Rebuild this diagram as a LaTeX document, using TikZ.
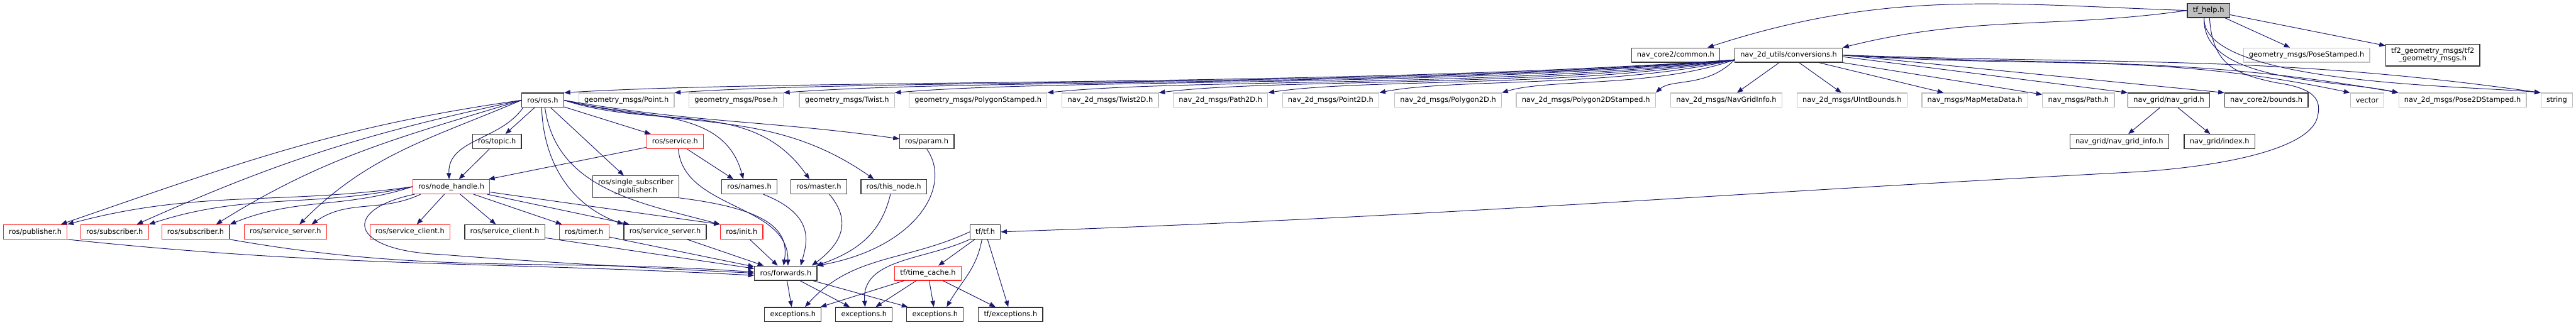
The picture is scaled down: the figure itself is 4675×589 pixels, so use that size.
\documentclass[tikz,border=0pt]{standalone}
\usepackage{fontspec}
\setmainfont{DejaVu Sans}
\usepackage{tikz}
\usetikzlibrary{arrows.meta,calc}

\definecolor{edgeblue}{HTML}{191970}
\definecolor{leafgray}{HTML}{BFBFBF}
\definecolor{cutred}{HTML}{FF2020}

\begin{document}
\begin{tikzpicture}[x=0.25pt, y=0.25pt,
    hfile/.style={rectangle, draw=black!80, line width=0.35pt, fill=white, font=\fontsize{3.25}{3.625}\selectfont, inner xsep=2.5pt, inner ysep=0pt, minimum height=6.5pt, align=center},
    rfile/.style={hfile, draw=cutred},
    gfile/.style={hfile, draw=leafgray},
    mainfile/.style={hfile, fill=leafgray},
    inc/.style={draw=edgeblue, line width=0.275pt, -{Triangle[length=2.75pt, width=2.1pt]}},
    fanout/.style={to path={.. controls ($(\tikztostart)!0.35!(\tikztotarget)+(0,-30)$) and ($(\tikztostart)!0.8!(\tikztotarget)+(0,14)$) .. (\tikztotarget) \tikztonodes}}
  ]
  \useasboundingbox (0,0) rectangle (4675,-589);

  % Root file
  \node[mainfile] (help) at (4008,-19) {tf\_help.h};

  % Direct includes
  \node[hfile] (common) at (3041,-100) {nav\_core2/common.h};
  \node[hfile] (conv) at (3246,-100) {nav\_2d\_utils/conversions.h};
  \node[gfile] (posestamped) at (4186,-100) {geometry\_msgs/PoseStamped.h};
  \node[hfile, inner ysep=1.5pt] (tftwo) at (4415,-100) {tf2\_geometry\_msgs/tf2\\\_geometry\_msgs.h};

  % Includes of conversions.h
  \node[hfile] (rosh) at (985,-182) {ros/ros.h};
  \node[gfile] (gpoint) at (1137,-182) {geometry\_msgs/Point.h};
  \node[gfile] (gpose) at (1336,-182) {geometry\_msgs/Pose.h};
  \node[gfile] (gtwist) at (1537,-182) {geometry\_msgs/Twist.h};
  \node[gfile] (gpolys) at (1775,-182) {geometry\_msgs/PolygonStamped.h};
  \node[gfile] (ntwist) at (2015,-182) {nav\_2d\_msgs/Twist2D.h};
  \node[gfile] (npath) at (2215,-182) {nav\_2d\_msgs/Path2D.h};
  \node[gfile] (npoint) at (2415,-182) {nav\_2d\_msgs/Point2D.h};
  \node[gfile] (npoly) at (2628,-182) {nav\_2d\_msgs/Polygon2D.h};
  \node[gfile] (npolys) at (2878,-182) {nav\_2d\_msgs/Polygon2DStamped.h};
  \node[gfile] (ngrid) at (3133,-182) {nav\_2d\_msgs/NavGridInfo.h};
  \node[gfile] (nbounds) at (3361,-182) {nav\_2d\_msgs/UIntBounds.h};
  \node[gfile] (mapmeta) at (3584,-182) {nav\_msgs/MapMetaData.h};
  \node[gfile] (mpath) at (3772,-182) {nav\_msgs/Path.h};
  \node[hfile] (navgrid) at (3936,-182) {nav\_grid/nav\_grid.h};
  \node[hfile] (cbounds) at (4113,-182) {nav\_core2/bounds.h};
  \node[gfile] (vector) at (4296,-182) {vector};
  \node[gfile] (pose2d) at (4469,-182) {nav\_2d\_msgs/Pose2DStamped.h};
  \node[gfile] (string) at (4640,-182) {string};

  % Fourth row
  \node[hfile] (topic) at (902,-257) {ros/topic.h};
  \node[rfile] (service) at (1225,-257) {ros/service.h};
  \node[hfile] (param) at (1682,-257) {ros/param.h};
  \node[hfile] (gridinfo) at (3846,-257) {nav\_grid/nav\_grid\_info.h};
  \node[hfile] (index) at (4028,-257) {nav\_grid/index.h};

  % Fifth row
  \node[rfile] (nodehandle) at (819,-339) {ros/node\_handle.h};
  \node[hfile, inner ysep=1.5pt] (singlesub) at (1154,-339) {ros/single\_subscriber\\\_publisher.h};
  \node[hfile] (names) at (1360,-339) {ros/names.h};
  \node[hfile] (master) at (1486,-339) {ros/master.h};
  \node[hfile] (thisnode) at (1622,-339) {ros/this\_node.h};

  % Sixth row
  \node[rfile] (publisher) at (64,-421) {ros/publisher.h};
  \node[rfile] (subA) at (208,-421) {ros/subscriber.h};
  \node[rfile] (subB) at (355,-421) {ros/subscriber.h};
  \node[rfile] (srvserverR) at (518,-421) {ros/service\_server.h};
  \node[rfile] (srvclientR) at (744,-421) {ros/service\_client.h};
  \node[hfile] (srvclient) at (916,-421) {ros/service\_client.h};
  \node[rfile] (timer) at (1060,-421) {ros/timer.h};
  \node[hfile] (srvserver) at (1207,-421) {ros/service\_server.h};
  \node[rfile] (init) at (1346,-421) {ros/init.h};
  \node[hfile] (tf) at (1788,-421) {tf/tf.h};

  % Seventh row
  \node[hfile] (forwards) at (1426,-496) {ros/forwards.h};
  \node[rfile] (timecache) at (1684,-496) {tf/time\_cache.h};

  % Bottom row
  \node[hfile] (excA) at (1439,-571) {exceptions.h};
  \node[hfile] (excB) at (1568,-571) {exceptions.h};
  \node[hfile] (excC) at (1697,-571) {exceptions.h};
  \node[hfile] (tfexc) at (1834,-571) {tf/exceptions.h};

  % tf_help.h
  \draw[inc] (help.west) to[out=178, in=18] ([shift={(-23,0)}]common.north east);
  \draw[inc] (help.west) to[out=188, in=14] (conv.north east);
  \draw[inc] (help) -- (posestamped);
  \draw[inc] (help) -- (tftwo);
  \draw[inc] ([shift={(-8,0)}]help.south) to[out=-92, in=168, looseness=0.8] (pose2d.north west);
  \draw[inc] ([shift={(-8,0)}]help.south) to[out=-92, in=174, looseness=0.5] (string.north west);
  \draw[inc] ([shift={(2,0)}]help.south) .. controls (4015,-120) and (4060,-135) .. (4130,-150)
    .. controls (4200,-160) and (4215,-180) .. (4205,-215)
    .. controls (4190,-265) and (4060,-300) .. (3880,-312) to[out=183, in=2] (tf.east);

  % nav_2d_utils/conversions.h
  \foreach \t in {rosh, gpoint, gpose, gtwist, gpolys, ntwist, npath, npoint, npoly, npolys}
    \draw[inc] ([shift={(0,5)}]conv.south west) to[fanout] (\t.north east);
  \draw[inc] ([shift={(-17,0)}]conv.south) -- (ngrid);
  \draw[inc] ([shift={(19,0)}]conv.south) -- (nbounds);
  \draw[inc] ([shift={(55,0)}]conv.south) -- (mapmeta);
  \draw[inc] (conv.south east) -- (mpath);
  \draw[inc] ([shift={(0,-3)}]conv.east) -- (navgrid.north west);
  \draw[inc] (conv.east) -- (cbounds.north west);
  \draw[inc] (conv.east) to[out=-4, in=168] (vector.north west);
  \draw[inc] (conv.east) to[out=-3, in=170] (pose2d.north west);
  \draw[inc] (conv.east) to[out=-2, in=172] (string.north west);

  % ros/ros.h
  \draw[inc] (rosh.west) to[out=188, in=19] ([shift={(-12,0)}]publisher.north east);
  \draw[inc] (rosh.west) to[out=192, in=24] ([shift={(-22,0)}]subA.north east);
  \draw[inc] (rosh.west) to[out=197, in=32] ([shift={(-25,0)}]subB.north east);
  \draw[inc] (rosh.west) to[out=203, in=45] ([shift={(-50,0)}]srvserverR.north east);
  \draw[inc] ([shift={(3,0)}]rosh.south west) to[out=235, in=92] ([shift={(-4,0)}]nodehandle.north);
  \draw[inc] (rosh) -- (topic);
  \draw[inc] ([shift={(-2,0)}]rosh.south) to[out=-88, in=160] (srvserver.north west);
  \draw[inc] ([shift={(4,0)}]rosh.south) to[out=-82, in=165] (init.north west);
  \draw[inc] (rosh) -- (singlesub);
  \draw[inc] (rosh) -- (service);
  \draw[inc] (rosh.east) to[out=-15, in=105] ([shift={(-11,0)}]names.north);
  \draw[inc] (rosh.east) to[out=-18, in=125] ([shift={(-17,0)}]master.north);
  \draw[inc] (rosh.east) to[out=-14, in=145] ([shift={(-36,0)}]thisnode.north);
  \draw[inc] (rosh.east) to[out=-10, in=172] ([shift={(0,5)}]param.west);

  % ros/service.h, ros/topic.h, ros/param.h
  \draw[inc] (service) -- (nodehandle);
  \draw[inc] ([shift={(22,0)}]service.south) -- ([shift={(-29,0)}]names.north);
  \draw[inc] ([shift={(6,0)}]service.south) .. controls (1240,-380) and (1430,-370) .. ([shift={(4,0)}]forwards.north);
  \draw[inc] (topic) -- (nodehandle);
  \draw[inc] (param.south) .. controls (1730,-340) and (1660,-450) .. (forwards.north east);

  % Fifth row to ros/forwards.h
  \draw[inc] ([shift={(-6,0)}]thisnode.south) .. controls (1600,-420) and (1560,-455) .. ([shift={(-2,0)}]forwards.north east);
  \draw[inc] ([shift={(19,0)}]master.south) .. controls (1545,-400) and (1530,-440) .. ([shift={(-10,0)}]forwards.north east);
  \draw[inc] ([shift={(25,0)}]names.south) .. controls (1480,-390) and (1465,-440) .. ([shift={(27,0)}]forwards.north);
  \draw[inc] (singlesub.south east) .. controls (1400,-380) and (1432,-420) .. ([shift={(-4,0)}]forwards.north);

  % ros/node_handle.h
  \draw[inc] (nodehandle.west) to[out=188, in=15] (publisher.north east);
  \draw[inc] (nodehandle.west) to[out=192, in=18] (subA.north east);
  \draw[inc] (nodehandle.west) to[out=198, in=22] (subB.north east);
  \draw[inc] ([shift={(15,0)}]nodehandle.south west) to[out=205, in=35] ([shift={(-28,0)}]srvserverR.north east);
  \draw[inc] (nodehandle) -- (srvclientR);
  \draw[inc] (nodehandle) -- (srvclient);
  \draw[inc] (nodehandle) -- (timer);
  \draw[inc] (nodehandle) -- (srvserver);
  \draw[inc] (nodehandle) -- (init.north west);
  \draw[inc] ([shift={(4,0)}]nodehandle.south west) .. controls (620,-380) and (630,-455) .. (800,-462)
    .. controls (1000,-478) and (1250,-490) .. (forwards.west);

  % Sixth row to ros/forwards.h
  \draw[inc] (publisher.south east) to[out=-6, in=177] ([shift={(0,-4)}]forwards.west);
  \draw[inc] (subB.south east) to[out=-10, in=176] ([shift={(0,2)}]forwards.west);
  \draw[inc] (srvclient) -- (forwards);
  \draw[inc] (timer) -- (forwards);
  \draw[inc] (srvserver) -- (forwards);
  \draw[inc] (init) -- (forwards);

  % ros/forwards.h
  \draw[inc] (forwards) -- (excA);
  \draw[inc] (forwards) -- (excB);
  \draw[inc] (forwards) -- (excC);

  % tf/tf.h
  \draw[inc] (tf) -- (timecache);
  \draw[inc] (tf) -- (tfexc);
  \draw[inc] ([shift={(-6,0)}]tf.south) to[out=-100, in=60] ([shift={(21,0)}]excC.north);
  \draw[inc] (tf.south west) to[out=205, in=95] ([shift={(2,0)}]excB.north);
  \draw[inc] (tf.west) to[out=205, in=48] ([shift={(22,0)}]excA.north);

  % tf/time_cache.h
  \draw[inc] (timecache) -- ([shift={(-2,0)}]excA.north east);
  \draw[inc] (timecache) -- (excB);
  \draw[inc] (timecache) -- (excC);
  \draw[inc] (timecache) -- (tfexc);

  % nav_grid/nav_grid.h
  \draw[inc] (navgrid) -- (gridinfo);
  \draw[inc] (navgrid) -- (index);
\end{tikzpicture}
\end{document}
